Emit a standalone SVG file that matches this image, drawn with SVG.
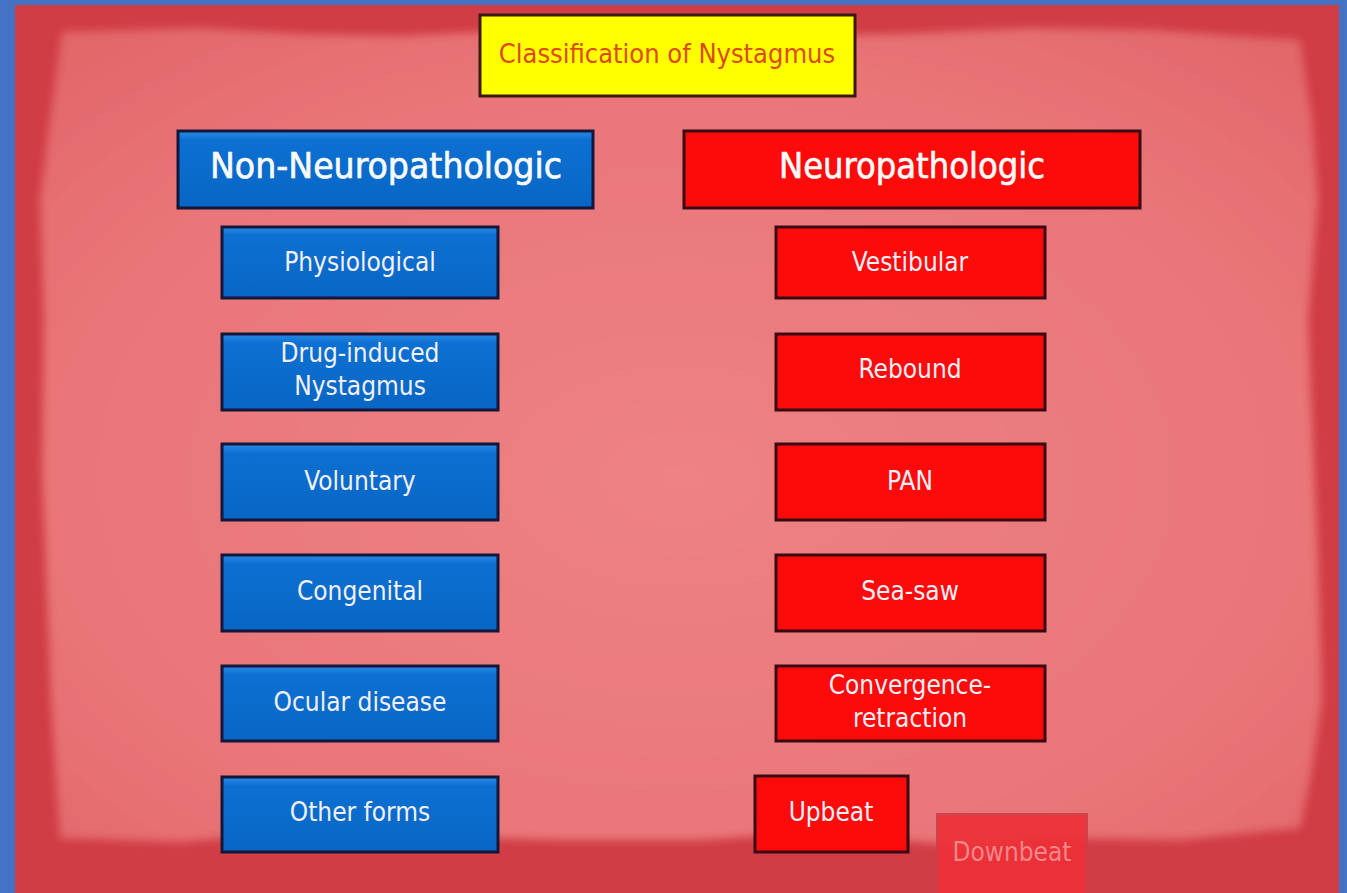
<svg xmlns="http://www.w3.org/2000/svg" width="1347" height="893" viewBox="0 0 1347 893">
<defs>
<style>
.t{font-family:"DejaVu Sans Condensed","Liberation Sans",sans-serif;text-anchor:middle}
.blue{fill:url(#gb);stroke:#14163a;stroke-width:3}
.red{fill:#fd0a0a;stroke:#3a0a14;stroke-width:3}
.lbl{fill:#f4f0f8;font-size:26px}
.hdr{fill:#fafafa;font-size:35px;stroke:#fafafa;stroke-width:0.6}
</style>
<linearGradient id="gb" x1="0" y1="0" x2="0" y2="1">
<stop offset="0" stop-color="#2a8ae6"/>
<stop offset="0.12" stop-color="#0c70d2"/>
<stop offset="1" stop-color="#0866c4"/>
</linearGradient>
<radialGradient id="bg" cx="0.5" cy="0.55" r="0.7">
<stop offset="0" stop-color="#ee8284"/>
<stop offset="0.7" stop-color="#e97678"/>
<stop offset="1" stop-color="#e2676b"/>
</radialGradient>
<filter id="soft" x="-5%" y="-5%" width="110%" height="110%">
<feGaussianBlur stdDeviation="4"/>
</filter>
</defs>
<rect width="1347" height="893" fill="#4472c4"/>
<rect x="15" y="5" width="1324" height="888" fill="#d03d44"/>
<path d="M62,32 L200,28 L300,34 L400,36 L520,30 L600,28 L760,36 L900,34 L1030,28 L1150,30 L1300,40 L1312,120 L1318,200 L1308,320 L1312,420 L1318,560 L1322,700 L1310,780 L1300,828 L1180,840 L1050,838 L960,846 L820,832 L700,840 L560,840 L420,836 L300,832 L180,842 L60,838 L52,720 L48,620 L42,470 L44,320 L40,200 L50,120 Z" fill="url(#bg)" filter="url(#soft)"/>
<g id="title">
<rect x="480" y="15" width="375" height="81" fill="#ffff00" stroke="#3a1a10" stroke-width="3"/>
<text class="t" x="667" y="63" font-size="27" fill="#dc4a0c">Classification of Nystagmus</text>
</g>
<g id="connectors"></g>
<g id="nonneuro">
<rect class="blue" x="178" y="131" width="415" height="77"/>
<text class="t hdr" x="386" y="178" textLength="352" lengthAdjust="spacingAndGlyphs">Non-Neuropathologic</text>
</g>
<g id="neuro">
<rect class="red" x="684" y="131" width="456" height="77"/>
<text class="t hdr" x="912" y="178" textLength="266" lengthAdjust="spacingAndGlyphs">Neuropathologic</text>
</g>
<g id="physiological">
<rect class="blue" x="222" y="227" width="276" height="71"/>
<text class="t lbl" x="360" y="271">Physiological</text>
</g>
<g id="drug">
<rect class="blue" x="222" y="334" width="276" height="76"/>
<text class="t lbl" x="360" y="362">Drug-induced</text>
<text class="t lbl" x="360" y="395">Nystagmus</text>
</g>
<g id="voluntary">
<rect class="blue" x="222" y="444" width="276" height="76"/>
<text class="t lbl" x="360" y="490">Voluntary</text>
</g>
<g id="congenital">
<rect class="blue" x="222" y="555" width="276" height="76"/>
<text class="t lbl" x="360" y="600">Congenital</text>
</g>
<g id="ocular">
<rect class="blue" x="222" y="666" width="276" height="75"/>
<text class="t lbl" x="360" y="711">Ocular disease</text>
</g>
<g id="other">
<rect class="blue" x="222" y="777" width="276" height="75"/>
<text class="t lbl" x="360" y="821">Other forms</text>
</g>
<g id="vestibular">
<rect class="red" x="776" y="227" width="269" height="71"/>
<text class="t lbl" x="910" y="271">Vestibular</text>
</g>
<g id="rebound">
<rect class="red" x="776" y="334" width="269" height="76"/>
<text class="t lbl" x="910" y="378">Rebound</text>
</g>
<g id="pan">
<rect class="red" x="776" y="444" width="269" height="76"/>
<text class="t lbl" x="910" y="490">PAN</text>
</g>
<g id="seasaw">
<rect class="red" x="776" y="555" width="269" height="76"/>
<text class="t lbl" x="910" y="600">Sea-saw</text>
</g>
<g id="convergence">
<rect class="red" x="776" y="666" width="269" height="75"/>
<text class="t lbl" x="910" y="694">Convergence-</text>
<text class="t lbl" x="910" y="727">retraction</text>
</g>
<g id="upbeat">
<rect class="red" x="755" y="776" width="153" height="76"/>
<text class="t lbl" x="831" y="821">Upbeat</text>
</g>
<g id="downbeat">
<rect x="937" y="814" width="150" height="80" fill="#ee3036" stroke="#c8404a" stroke-width="2" opacity="0.9"/>
<text class="t" x="1012" y="861" font-size="26" fill="#f2868a">Downbeat</text>
</g>
</svg>
